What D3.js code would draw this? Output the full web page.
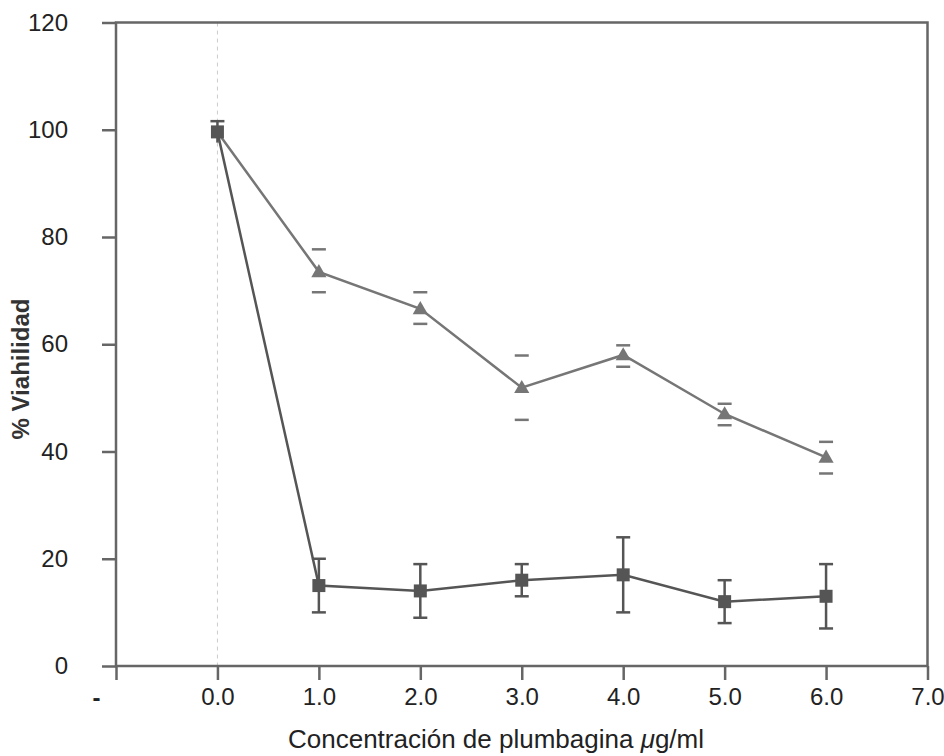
<!DOCTYPE html>
<html><head><meta charset="utf-8">
<script src="https://cdn.jsdelivr.net/npm/d3@7"></script>
<style>body{margin:0;background:#fff;}svg{display:block;}text{font-family:"Liberation Sans",Arial,sans-serif;}</style>
</head><body>
<svg id="c" width="944" height="756"></svg>
<script>
const xTicks = [-1, 0, 1, 2, 3, 4, 5, 6, 7];
const xTickLabels = ["-", "0.0", "1.0", "2.0", "3.0", "4.0", "5.0", "6.0", "7.0"];
const yTicks = [0, 20, 40, 60, 80, 100, 120];
const conc = [0, 1, 2, 3, 4, 5, 6];
const squareMean = [99.6, 15, 14, 16, 17, 12, 13];
const squareLow  = [97.6, 10, 9, 13, 10, 8, 7];
const squareHigh = [101.6, 20, 19, 19, 24, 16, 19];
const triConc = [1, 2, 3, 4, 5, 6];
const triMean = [73.5, 66.6, 51.9, 58, 47, 38.9];
const triLow  = [69.7, 63.8, 45.9, 55.8, 44.9, 35.9];
const triHigh = [77.7, 69.7, 57.9, 59.8, 48.9, 41.8];

const svg = d3.select("#c");
const x = d3.scaleLinear().domain([-1, 7]).range([116, 927.5]);
const y = d3.scaleLinear().domain([0, 120]).range([666, 22.5]);
const axisCol = "#666";

// dashed vertical line at 0
svg.append("line").attr("x1", x(0)).attr("x2", x(0)).attr("y1", y(120)).attr("y2", y(0))
  .attr("stroke", "#ccc").attr("stroke-width", 1).attr("stroke-dasharray", "4,4");

// axes
const xAxis = d3.axisBottom(x).tickValues(xTicks).tickSize(14).tickPadding(8)
  .tickFormat((d, i) => xTickLabels[i]);
const gx = svg.append("g").attr("transform", `translate(0,${y(0)})`).call(xAxis);
gx.select(".domain").remove();
gx.selectAll(".tick line").attr("stroke", axisCol).attr("stroke-width", 2.5);
gx.selectAll(".tick text").attr("font-size", 24).attr("fill", "#222")
  .attr("font-family", "Liberation Sans, Arial, sans-serif");
gx.selectAll(".tick text").filter((d) => d === -1).attr("font-weight", "bold").attr("dx", -20).attr("dy", 18);

const yAxis = d3.axisLeft(y).tickValues(yTicks).tickSize(14).tickPadding(34);
const gy = svg.append("g").attr("transform", `translate(${x(-1)},0)`).call(yAxis);
gy.select(".domain").remove();
gy.selectAll(".tick line").attr("stroke", axisCol).attr("stroke-width", 2.5);
gy.selectAll(".tick text").attr("font-size", 24).attr("fill", "#222")
  .attr("font-family", "Liberation Sans, Arial, sans-serif");

// frame
svg.append("rect").attr("x", x(-1)).attr("y", y(120)).attr("width", x(7) - x(-1)).attr("height", y(0) - y(120))
  .attr("fill", "none").attr("stroke", axisCol).attr("stroke-width", 2.5);

// triangle series line (starts from the 0 point)
const triCol = "#767676";
const sqCol = "#555";
const triPts = [[0, squareMean[0]]].concat(triConc.map((c, i) => [c, triMean[i]]));
svg.append("path").datum(triPts)
  .attr("d", d3.line().x(d => x(d[0])).y(d => y(d[1])))
  .attr("fill", "none").attr("stroke", triCol).attr("stroke-width", 2.5);

// square series line
svg.append("path").datum(conc.map((c, i) => [c, squareMean[i]]))
  .attr("d", d3.line().x(d => x(d[0])).y(d => y(d[1])))
  .attr("fill", "none").attr("stroke", sqCol).attr("stroke-width", 2.5);

// triangle error caps
triConc.forEach((c, i) => {
  [triLow[i], triHigh[i]].forEach(v => {
    svg.append("line").attr("x1", x(c) - 7).attr("x2", x(c) + 7).attr("y1", y(v)).attr("y2", y(v))
      .attr("stroke", triCol).attr("stroke-width", 2.5);
  });
});
// triangles
svg.selectAll(".tri").data(triConc).enter().append("path")
  .attr("d", d3.symbol().type(d3.symbolTriangle).size(100))
  .attr("transform", (d, i) => `translate(${x(d)},${y(triMean[i]) + 1})`)
  .attr("fill", triCol);

// square error bars
conc.forEach((c, i) => {
  svg.append("line").attr("x1", x(c)).attr("x2", x(c)).attr("y1", y(squareLow[i])).attr("y2", y(squareHigh[i]))
    .attr("stroke", sqCol).attr("stroke-width", 2.5);
  [squareLow[i], squareHigh[i]].forEach((v, k) => {
    if (i === 0 && k === 0) return;
    svg.append("line").attr("x1", x(c) - 7).attr("x2", x(c) + 7).attr("y1", y(v)).attr("y2", y(v))
      .attr("stroke", sqCol).attr("stroke-width", 2.5);
  });
});
// squares
svg.selectAll(".sq").data(conc).enter().append("rect")
  .attr("x", d => x(d) - 6.5).attr("y", (d, i) => y(squareMean[i]) - 6.5)
  .attr("width", 13).attr("height", 13).attr("fill", sqCol);

// axis titles
svg.append("text").attr("x", 496).attr("y", 748).attr("text-anchor", "middle")
  .attr("font-size", 26).attr("fill", "#222")
  .html('Concentración de plumbagina <tspan font-style="italic">μ</tspan>g/ml');
svg.append("text").attr("transform", "translate(29,369) rotate(-90)").attr("text-anchor", "middle")
  .attr("font-size", 24).attr("font-weight", "bold").attr("fill", "#333")
  .text("% Viahilidad");
</script>
</body></html>
